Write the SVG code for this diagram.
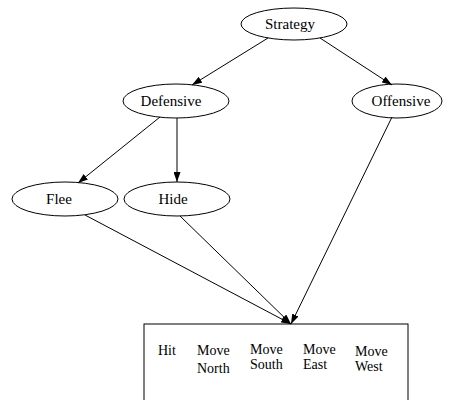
<svg xmlns="http://www.w3.org/2000/svg" width="450" height="400" viewBox="0 0 450 400">
<style>
.n ellipse{fill:none;stroke:#000;stroke-width:1}
text{font-family:"Liberation Serif","Times New Roman",serif;font-size:15px;fill:#000}
.n text{text-anchor:middle}
#actions text{font-size:14px}
.e line{stroke:#000;stroke-width:1;marker-end:url(#ah)}
</style>
<defs>
<marker id="ah" markerUnits="userSpaceOnUse" markerWidth="10" markerHeight="7" refX="10" refY="3.5" orient="auto">
<path d="M0,0 L10,3.5 L0,7 z" fill="#000"/>
</marker>
</defs>
<rect width="450" height="400" fill="#fff"/>
<g id="edges" class="e">
<line x1="268" y1="38" x2="192" y2="85"/>
<line x1="320" y1="38" x2="392" y2="85"/>
<line x1="160" y1="117" x2="78" y2="183"/>
<line x1="177" y1="118" x2="177" y2="182"/>
<line x1="392" y1="117" x2="291" y2="324"/>
<line x1="85" y1="215" x2="291" y2="324"/>
<line x1="180" y1="216" x2="291" y2="324"/>
</g>
<g id="strategy" class="n"><ellipse cx="294" cy="24" rx="53" ry="16"/><text x="290" y="29">Strategy</text></g>
<g id="defensive" class="n"><ellipse cx="176" cy="101" rx="53" ry="17"/><text x="171" y="106">Defensive</text></g>
<g id="offensive" class="n"><ellipse cx="397" cy="101" rx="45" ry="17"/><text x="401" y="106">Offensive</text></g>
<g id="flee" class="n"><ellipse cx="65" cy="199" rx="53" ry="17"/><text x="59" y="204">Flee</text></g>
<g id="hide" class="n"><ellipse cx="177" cy="199" rx="53" ry="17"/><text x="173" y="204">Hide</text></g>
<g id="actions">
<rect x="144" y="324" width="264" height="90" fill="none" stroke="#000" stroke-width="1"/>
<text x="158" y="355">Hit</text>
<text x="197" y="355">Move</text><text x="197" y="373">North</text>
<text x="250" y="354">Move</text><text x="250" y="369">South</text>
<text x="303" y="354">Move</text><text x="303" y="369">East</text>
<text x="355" y="356">Move</text><text x="355" y="371">West</text>
</g>
</svg>
